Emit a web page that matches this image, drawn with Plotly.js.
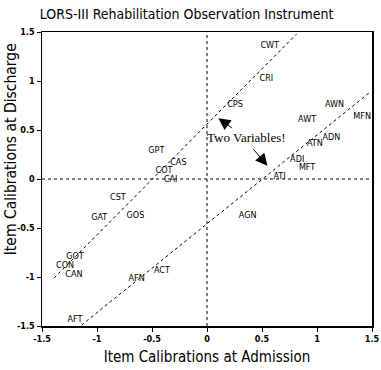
<!DOCTYPE html>
<html><head><meta charset="utf-8">
<script src="https://cdn.plot.ly/plotly-3.0.1.min.js"></script>
<style>html,body{margin:0;padding:0;background:#fff}#chart{width:381px;height:370px}</style>
</head><body><div id="chart"></div>
<script>
const itemCodes = ['CWT','CRI','CPS','GPT','CAS','COT','CAI','CST','GAT','GOS','GOT','CON','CAN','AFN','ACT','AFT','AGN','ATI','MFT','ADI','ATN','ADN','AWT','MFN','AWN'];
const admission = [0.57,0.54,0.255,-0.46,-0.26,-0.39,-0.33,-0.81,-0.98,-0.65,-1.20,-1.29,-1.21,-0.64,-0.41,-1.20,0.37,0.66,0.91,0.82,0.98,1.13,0.91,1.41,1.16];
const discharge = [1.36,1.02,0.76,0.29,0.17,0.08,-0.01,-0.19,-0.40,-0.38,-0.79,-0.89,-0.98,-1.02,-0.94,-1.44,-0.38,0.02,0.11,0.20,0.36,0.42,0.60,0.635,0.757];
const upperLineX = [-1.39, 0.815];
const upperLineY = [-1.01, 1.48];
const lowerLineX = [-1.14, 1.47];
const lowerLineY = [-1.49, 0.875];
const axisRange = [-1.5, 1.5];
const zeroPair = [0, 0];
const tickVals = [-1.5,-1,-0.5,0,0.5,1,1.5];
const tickText = ['-1.5','-1','-0.5','0','0.5','1','1.5'];

const dot = {color:'#000', width:1, dash:'dot'};
const fontT = "'DejaVu Sans Condensed', 'Liberation Sans', sans-serif";
const traces = [
  {x: zeroPair, y: axisRange, mode:'lines', line: dot, hoverinfo:'skip'},
  {x: axisRange, y: zeroPair, mode:'lines', line: dot, hoverinfo:'skip'},
  {x: upperLineX, y: upperLineY, mode:'lines', line: dot, hoverinfo:'skip'},
  {x: lowerLineX, y: lowerLineY, mode:'lines', line: dot, hoverinfo:'skip'},
  {x: admission, y: discharge, text: itemCodes, mode:'text', textposition:'middle center',
   textfont:{family:fontT, size:9, color:'#000'}}
];
const layout = {
  width:381, height:370, showlegend:false,
  paper_bgcolor:'#fff', plot_bgcolor:'#fff',
  margin:{l:42, r:9, t:32, b:44},
  title:{text:'LORS-III Rehabilitation Observation Instrument', font:{family:fontT, size:14, color:'#000'}, x:0.49, xref:'container', y:0.963, yref:'container', yanchor:'middle'},
  xaxis:{range:axisRange, tickvals:tickVals, ticktext:tickText, showgrid:false, zeroline:false,
    showline:true, mirror:true, linecolor:'#000', linewidth:1.5, ticks:'outside', ticklen:4, tickcolor:'#000',
    tickfont:{family:fontT, size:9, color:'#000', weight:'bold'},
    title:{text:'Item Calibrations at Admission', font:{family:fontT, size:15, color:'#000'}, standoff:8}},
  yaxis:{range:axisRange, tickvals:tickVals, ticktext:tickText, showgrid:false, zeroline:false,
    showline:true, mirror:true, linecolor:'#000', linewidth:1.5, ticks:'outside', ticklen:4, tickcolor:'#000',
    tickfont:{family:fontT, size:9, color:'#000', weight:'bold'}, title:{text:''}},
  annotations:[
    {text:'Item Calibrations at Discharge', textangle:-90, xref:'paper', yref:'paper', x:-0.095, y:0.6, xanchor:'center', yanchor:'middle', showarrow:false,
     font:{family:fontT, size:15.5, color:'#000'}},
    {text:'Two Variables!', x:0.36, y:0.42, xref:'x', yref:'y', showarrow:false, font:{family:'Liberation Serif', size:13, color:'#000'}},
    {text:'', x:0.103, y:0.62, ax:0.24, ay:0.51, xref:'x', yref:'y', axref:'x', ayref:'y', showarrow:true, arrowhead:2, arrowsize:2.4, arrowwidth:1, arrowcolor:'#000'},
    {text:'', x:0.55, y:0.135, ax:0.41, ay:0.32, xref:'x', yref:'y', axref:'x', ayref:'y', showarrow:true, arrowhead:2, arrowsize:2.4, arrowwidth:1, arrowcolor:'#000'}
  ]
};
Plotly.newPlot('chart', traces, layout, {displayModeBar:false, staticPlot:true});
</script></body></html>
